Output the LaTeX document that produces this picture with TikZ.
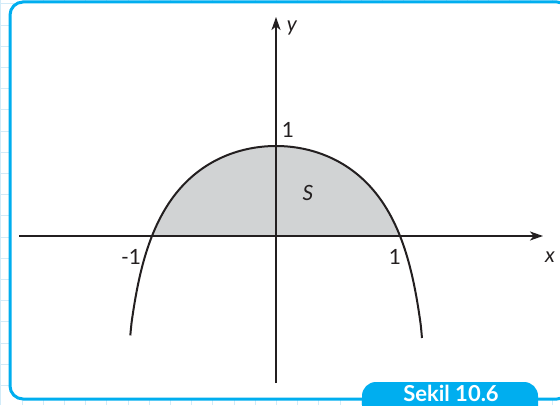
\documentclass[tikz,border=0pt]{standalone}
\usepackage{fontspec}
\setmainfont{Lato}
\usetikzlibrary{arrows.meta}
\definecolor{frameblue}{HTML}{00AEEF}
\definecolor{gridblue}{HTML}{D2EBF8}
\definecolor{ink}{HTML}{231F20}
\definecolor{regiongray}{HTML}{D1D3D4}
\begin{document}
\begin{tikzpicture}[x=1pt,y=1pt,
  axisline/.style={ink, line width=1.6pt, -{Stealth[length=13pt,width=9pt,inset=3.5pt]}},
  curveline/.style={ink, line width=2pt},
  lbl/.style={font=\fontsize{21}{21}\selectfont, text=ink, inner sep=0pt},
  tablbl/.style={font=\fontsize{22}{22}\selectfont\bfseries, text=white, inner sep=0pt},
]
\useasboundingbox (0,0) rectangle (560,405);
\begin{scope}
  \clip (0,0) rectangle (560,405);
  % graph paper
  \foreach \i in {0,...,26} \draw[gridblue, line width=0.9pt] (0.8+21.2*\i,0) -- ++(0,405);
  \foreach \j in {0,...,19} \draw[gridblue, line width=0.9pt] (0,405-3.8-21.2*\j) -- ++(560,0);
  % frame
  \draw[frameblue, line width=3pt, fill=white, rounded corners=13pt] (10,6) rectangle (570,403);
  % tab
  \fill[frameblue, rounded corners=14pt] (362,-30) rectangle (538,23);
\end{scope}
\node[tablbl, anchor=base] (tab) at (451,3.5) {Sekil 10.6};
% region and curve
\begin{scope}[shift={(276,169)}, x=124pt, y=90pt]
  \fill[regiongray] plot[domain=-1:1, samples=160, smooth] (\x,{1+ln(1-0.64*\x*\x)/1.021651}) -- cycle;
  \draw[curveline] plot[domain=-1.175:1.18, samples=240, smooth] (\x,{1+ln(1-0.64*\x*\x)/1.021651});
\end{scope}
% axes
\coordinate (xl) at (19,169);
\coordinate (xr) at (543,169);
\coordinate (yb) at (276,22);
\coordinate (yt) at (276,388);
\draw[axisline] (xl) -- (xr);
\draw[axisline] (yb) -- (yt);
% labels
\node[lbl] (ylab) at (292,377) {\itshape y};
\node[lbl] (xlab) at (550,148) {\itshape x};
\node[lbl] (one) at (288,275) {1};
\node[lbl] (mone) at (131,148) {-1};
\node[lbl] (oner) at (395,148) {1};
\node[lbl] (s) at (308,212) {\itshape S};
\end{tikzpicture}
\end{document}
